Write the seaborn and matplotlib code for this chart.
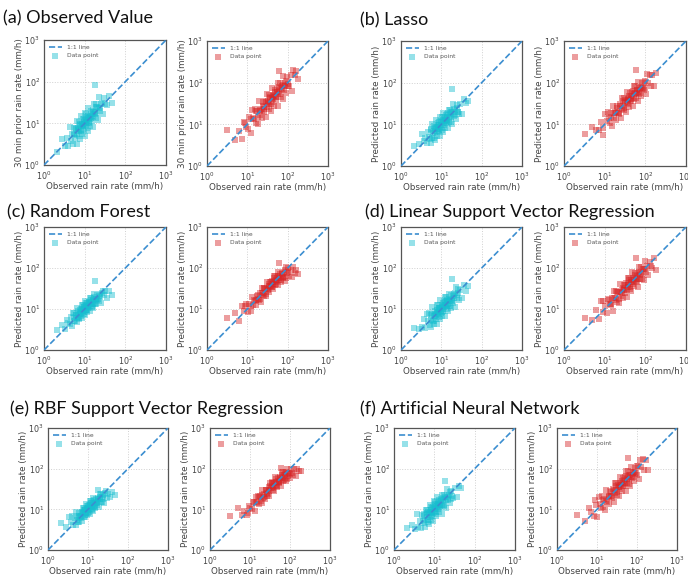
import numpy as np
import pandas as pd
import seaborn as sns
import matplotlib.pyplot as plt

# observed rain rate (mm/h) - same test samples in every panel
cyan_obs = [2.1, 2.8, 3.3, 3.7, 4.0, 4.3, 4.6, 4.9, 5.1, 5.4, 5.6, 5.9, 6.1, 6.4, 6.6,
            6.9, 7.1, 7.3, 7.6, 7.8, 8.0, 8.3, 8.5, 8.8, 9.0, 9.3, 9.5, 9.8, 10.1, 10.4,
            10.7, 11.0, 11.3, 11.7, 12.0, 12.4, 12.8, 13.2, 13.6, 14.1, 14.6, 15.1, 15.7, 16.3, 17.0,
            17.8, 18.6, 19.5, 20.5, 21.6, 22.8, 24.2, 25.8, 27.6, 29.7, 32.5, 36.0, 40.5, 46.0, 18.0,
            5.5, 6.0, 6.5, 7.0, 7.4, 7.8, 8.2, 8.6, 9.0, 9.4, 9.8, 10.2, 10.6, 11.0, 11.5,
            12.0, 12.5, 13.0, 13.6, 14.2, 14.9, 15.6, 16.4, 17.3, 18.3, 19.4, 20.6, 22.0, 24.0, 26.5]
red_obs = [3.2, 5.0, 6.2, 7.2, 8.2, 9.2, 10.2, 11.2, 12.2, 13.2, 14.2, 15.2, 16.2, 17.2, 18.3,
           19.4, 20.5, 21.6, 22.8, 24.0, 25.2, 26.5, 27.8, 29.2, 30.6, 32.0, 33.5, 35.0, 36.6, 38.2,
           40.0, 41.8, 43.6, 45.5, 47.5, 49.6, 51.8, 54.0, 56.5, 59.0, 61.8, 64.7, 67.8, 71.0, 74.5,
           78.2, 82.3, 86.8, 91.8, 97.3, 103.0, 110.0, 118.0, 127.0, 138.0, 150.0, 165.0, 185.0, 9.0, 60.0,
           12.5, 14.5, 16.5, 18.5, 20.5, 22.5, 24.5, 26.5, 28.5, 30.5, 32.5, 34.5, 36.5, 38.5, 40.5,
           42.5, 44.5, 47.0, 49.5, 52.0, 55.0, 58.0, 61.5, 65.0, 69.0, 73.0, 78.0, 84.0, 91.0, 100.0]

# (a) 30 min prior rain rate
prior_cyan = [2.1, 4.3, 2.8, 4.4, 2.9, 8.0, 3.8, 5.4, 3.2, 7.6, 5.2, 4.4, 7.9, 3.2, 11.2,
              6.9, 11.0, 5.0, 9.1, 4.3, 14.8, 6.8, 9.4, 5.5, 12.6, 8.6, 7.1, 12.7, 5.1, 17.7,
              10.7, 17.1, 7.7, 14.0, 6.6, 22.9, 10.5, 14.5, 8.4, 19.7, 13.4, 11.3, 20.4, 8.2, 28.9,
              17.8, 28.8, 13.3, 24.6, 11.9, 42.2, 19.8, 28.4, 17.1, 41.6, 29.9, 27.0, 46.0, 30.0, 82.0,
              5.5, 7.2, 5.5, 7.7, 6.7, 9.8, 6.6, 9.0, 8.6, 10.8, 9.8, 12.2, 9.0, 12.1, 10.4,
              15.0, 10.0, 13.7, 12.9, 16.3, 14.9, 18.7, 13.9, 19.0, 16.5, 24.3, 16.5, 23.1, 22.8, 30.5]
prior_red = [7.5, 4.1, 6.8, 4.5, 11.5, 8.5, 7.7, 14.6, 6.1, 22.4, 14.2, 23.6, 11.0, 20.6, 10.1,
             35.9, 16.8, 23.8, 14.1, 33.6, 23.2, 19.9, 36.1, 14.6, 52.0, 32.0, 51.9, 23.8, 43.9, 21.0,
             74.0, 34.3, 48.0, 28.2, 66.5, 45.6, 38.9, 70.2, 28.3, 100.3, 61.8, 100.3, 46.1, 85.2, 41.0,
             144.7, 67.5, 95.5, 56.9, 136.2, 94.8, 82.5, 153.4, 63.5, 200.0, 150.0, 190.0, 125.8, 10.8, 190.0,
             13.8, 13.1, 20.6, 14.8, 21.5, 21.4, 28.2, 26.5, 34.2, 25.9, 35.8, 31.1, 45.6, 30.8, 42.5,
             40.4, 51.2, 47.0, 59.4, 44.2, 60.5, 52.2, 76.9, 52.0, 72.5, 69.4, 89.7, 84.0, 109.2, 85.0]

# (b) Lasso
lasso_cyan = [3.1, 3.3, 6.0, 3.9, 4.8, 3.6, 6.7, 5.0, 4.4, 7.4, 3.5, 10.4, 6.1, 9.3, 4.8,
              8.1, 4.3, 12.4, 6.4, 8.4, 5.3, 11.0, 7.9, 6.9, 11.3, 5.2, 15.2, 9.8, 14.6, 7.5,
              12.6, 6.6, 19.2, 9.8, 13.0, 8.2, 16.9, 12.3, 10.6, 17.6, 8.2, 22.2, 14.4, 21.8, 11.3,
              19.3, 10.3, 30.5, 15.8, 21.5, 13.8, 29.4, 19.7, 17.7, 30.4, 18.0, 40.0, 33.2, 36.0, 70.0,
              7.6, 4.8, 6.8, 6.7, 8.5, 7.8, 9.8, 7.3, 9.9, 8.5, 12.3, 8.2, 11.1, 10.5, 13.2,
              12.0, 15.0, 11.1, 15.0, 12.8, 18.6, 11.5, 15.9, 15.1, 19.3, 17.8, 22.8, 17.2, 24.3, 19.5]
lasso_red = [6.0, 8.6, 7.5, 7.3, 11.3, 5.7, 17.9, 12.3, 19.5, 10.5, 18.4, 9.1, 27.5, 14.4, 19.8,
             12.8, 27.1, 20.1, 17.8, 30.0, 14.1, 42.4, 27.8, 42.3, 22.0, 37.8, 20.1, 59.5, 30.7, 41.3,
             26.4, 55.2, 40.5, 35.5, 59.4, 27.8, 82.9, 54.0, 81.9, 42.5, 67.1, 35.7, 106.0, 54.9, 74.0,
             47.5, 99.9, 74.3, 65.9, 111.9, 53.1, 162.0, 100.3, 156.5, 84.5, 150.5, 84.2, 170.0, 8.3, 200.0,
             14.4, 15.2, 19.0, 18.5, 24.6, 19.1, 27.0, 23.9, 35.6, 24.4, 34.1, 32.8, 42.0, 38.5, 48.6,
             36.1, 49.0, 42.3, 61.9, 41.6, 57.8, 55.1, 65.1, 59.8, 76.2, 57.1, 79.0, 69.6, 104.6, 73.6]

# (c) Random Forest
rf_cyan = [3.0, 4.0, 3.2, 5.5, 4.6, 4.3, 6.3, 3.8, 8.1, 5.9, 8.1, 5.0, 7.3, 4.8, 10.3,
           6.3, 7.7, 5.7, 9.4, 7.5, 6.9, 9.8, 5.9, 12.5, 9.0, 12.3, 7.6, 11.1, 7.3, 15.5,
           9.5, 11.7, 8.6, 14.3, 11.4, 10.4, 14.8, 8.8, 18.6, 13.5, 18.3, 11.4, 16.5, 10.8, 23.1,
           14.2, 17.5, 12.9, 21.5, 17.3, 16.0, 23.0, 13.9, 27.0, 21.8, 28.0, 18.8, 27.5, 22.0, 48.0,
           5.1, 7.0, 6.1, 9.0, 6.1, 8.3, 7.9, 9.9, 9.0, 11.3, 8.3, 11.2, 9.5, 13.8, 9.2,
           12.6, 11.8, 14.6, 13.1, 16.3, 12.0, 16.0, 13.6, 19.6, 13.0, 17.7, 16.7, 21.2, 19.4, 24.6]
rf_red = [6.0, 8.0, 5.2, 11.8, 9.0, 12.9, 8.5, 12.9, 8.9, 19.7, 12.6, 16.1, 12.3, 21.0, 17.4,
          16.5, 24.2, 14.9, 32.4, 24.0, 33.3, 21.2, 31.4, 21.0, 45.6, 28.5, 35.5, 26.6, 44.7, 36.3,
          34.0, 49.3, 30.1, 63.9, 46.5, 63.4, 39.6, 57.6, 38.2, 82.0, 50.7, 62.5, 46.4, 76.9, 61.8,
          57.0, 81.4, 49.0, 103.7, 75.0, 101.6, 63.2, 91.5, 59.0, 105.0, 74.8, 89.0, 72.0, 11.7, 135.0,
          11.9, 16.7, 16.5, 22.2, 17.4, 24.8, 22.1, 33.1, 22.8, 32.0, 30.9, 39.7, 36.5, 46.2, 34.4,
          46.8, 40.1, 57.5, 38.4, 52.2, 49.2, 62.1, 56.5, 70.8, 52.3, 70.4, 60.1, 87.1, 58.0, 79.8]

# (d) Linear Support Vector Regression
lsvr_cyan = [3.4, 3.3, 3.6, 5.8, 3.5, 7.5, 5.1, 7.8, 4.0, 7.0, 3.7, 11.0, 5.1, 6.9, 4.4,
             9.1, 6.6, 5.7, 9.5, 4.4, 12.8, 8.3, 12.3, 6.3, 10.6, 5.6, 16.2, 8.2, 10.9, 6.9,
             14.1, 10.2, 8.8, 14.6, 6.7, 19.8, 12.8, 19.1, 9.8, 16.6, 8.8, 23.6, 12.1, 16.2, 10.3,
             21.6, 15.9, 14.0, 23.6, 11.1, 33.6, 22.3, 30.7, 16.3, 28.8, 19.0, 38.0, 27.9, 36.0, 55.0,
             5.4, 7.5, 5.2, 7.4, 7.0, 9.0, 8.2, 10.3, 7.7, 10.3, 8.8, 12.8, 8.5, 11.6, 10.9,
             13.8, 12.5, 15.6, 11.6, 15.6, 13.4, 18.0, 12.1, 16.7, 16.0, 20.5, 19.0, 24.2, 18.8, 23.9]
lsvr_red = [6.1, 5.5, 9.6, 5.6, 15.3, 8.5, 12.1, 8.1, 17.7, 13.5, 12.2, 19.0, 9.1, 27.5, 18.3,
            28.1, 14.8, 25.5, 13.7, 40.8, 21.2, 28.6, 18.3, 38.5, 28.5, 25.0, 41.9, 19.6, 58.6, 38.2,
            58.0, 30.1, 51.4, 27.3, 80.8, 41.7, 55.9, 35.6, 74.6, 54.9, 44.4, 74.4, 34.9, 104.5, 68.5,
            104.3, 54.5, 94.3, 50.7, 152.2, 79.6, 109.1, 66.2, 142.6, 109.1, 99.5, 175.0, 87.9, 15.8, 175.0,
            16.5, 13.6, 18.2, 16.7, 25.6, 18.0, 25.7, 25.2, 32.8, 30.5, 39.0, 29.3, 40.2, 34.7, 50.6,
            34.0, 46.7, 44.7, 56.9, 52.0, 66.0, 49.3, 62.3, 53.8, 79.4, 53.8, 75.4, 73.4, 96.3, 92.0]

# (e) RBF Support Vector Regression
rbf_cyan = [4.7, 3.6, 6.5, 4.9, 6.7, 4.2, 6.2, 4.1, 8.8, 5.4, 6.7, 4.9, 8.2, 6.6, 6.0,
            8.6, 5.2, 10.9, 7.9, 10.7, 6.6, 9.6, 6.3, 13.4, 8.2, 10.0, 7.3, 12.1, 9.6, 8.8,
            12.6, 7.6, 15.9, 11.5, 15.6, 9.7, 14.0, 9.1, 19.4, 11.9, 14.6, 10.7, 17.7, 14.2, 13.1,
            18.8, 11.3, 24.0, 17.5, 23.9, 15.0, 21.9, 14.5, 28.0, 19.1, 23.6, 20.0, 27.0, 23.1, 30.0,
            5.0, 6.9, 6.7, 8.4, 7.7, 9.7, 7.1, 9.7, 8.3, 11.9, 7.9, 10.7, 10.1, 12.7, 11.4,
            14.2, 10.4, 13.9, 11.7, 16.9, 11.2, 15.2, 14.3, 17.9, 16.2, 20.3, 14.9, 20.2, 17.5, 25.4]
rbf_red = [7.0, 11.0, 7.2, 9.3, 7.2, 12.4, 10.5, 10.0, 14.9, 9.2, 20.2, 15.2, 21.4, 13.8, 20.7,
           14.0, 30.5, 19.2, 24.2, 18.2, 30.7, 25.2, 23.6, 34.5, 21.1, 45.4, 33.5, 46.2, 29.3, 43.2,
           28.8, 62.3, 38.8, 48.2, 35.3, 58.6, 47.0, 43.4, 62.5, 38.0, 80.9, 59.5, 81.8, 51.2, 75.1,
           49.7, 98.0, 65.0, 79.5, 58.5, 96.4, 77.0, 70.6, 99.1, 65.0, 100.0, 86.0, 90.0, 8.0, 105.0,
           14.8, 14.7, 19.8, 15.7, 22.6, 20.3, 30.6, 21.2, 29.9, 29.0, 37.4, 34.5, 43.8, 32.7, 44.6,
           38.3, 55.6, 36.8, 50.4, 47.2, 59.6, 54.0, 68.0, 50.6, 68.5, 58.1, 84.8, 56.6, 77.7, 73.7]

# (f) Artificial Neural Network
ann_cyan = [3.4, 4.1, 3.3, 7.8, 3.7, 5.1, 3.4, 7.1, 5.2, 4.6, 7.8, 3.6, 9.8, 6.4, 9.6,
            5.0, 8.4, 4.4, 12.9, 6.6, 8.6, 5.5, 11.2, 8.2, 7.0, 11.6, 5.3, 15.7, 10.1, 15.1,
            7.7, 13.0, 6.8, 19.9, 10.1, 13.4, 8.4, 17.4, 12.6, 11.0, 18.3, 7.8, 23.0, 15.0, 22.6,
            11.8, 20.2, 10.7, 32.1, 16.7, 22.7, 14.7, 28.0, 21.0, 19.0, 33.4, 20.0, 38.0, 34.0, 50.0,
            6.7, 5.4, 8.1, 5.6, 7.8, 7.4, 9.4, 8.6, 10.8, 8.0, 10.8, 9.2, 13.3, 8.8, 12.1,
            11.4, 14.4, 13.0, 16.3, 12.1, 16.4, 13.0, 18.9, 12.7, 17.6, 16.9, 21.9, 20.2, 26.5, 18.4]
ann_red = [7.2, 5.2, 10.7, 8.7, 7.0, 12.6, 6.3, 19.7, 13.4, 21.0, 11.2, 17.9, 9.7, 29.2, 15.4,
           21.0, 13.5, 28.5, 21.2, 18.7, 31.5, 14.8, 44.5, 29.2, 44.4, 23.0, 39.5, 21.0, 62.2, 32.1,
           43.2, 27.6, 57.6, 42.3, 37.1, 62.0, 29.0, 86.4, 56.5, 85.6, 41.0, 70.2, 37.4, 111.0, 57.5,
           77.7, 50.0, 105.5, 78.6, 69.8, 118.5, 56.6, 160.5, 108.0, 170.0, 91.8, 165.0, 94.2, 16.8, 180.0,
           11.0, 16.8, 15.7, 21.3, 20.5, 27.0, 20.8, 29.2, 25.7, 38.1, 26.0, 36.2, 34.7, 44.3, 40.5,
           51.0, 37.8, 51.7, 44.6, 65.0, 44.0, 60.9, 53.8, 68.8, 63.5, 80.6, 61.0, 85.0, 75.3, 115.0]

titles = ["(a) Observed Value", "(b) Lasso", "(c) Random Forest",
          "(d) Linear Support Vector Regression", "(e) RBF Support Vector Regression",
          "(f) Artificial Neural Network"]
ylabels = ["30 min prior rain rate (mm/h)"] + ["Predicted rain rate (mm/h)"] * 5
preds = [(prior_cyan, prior_red), (lasso_cyan, lasso_red), (rf_cyan, rf_red),
         (lsvr_cyan, lsvr_red), (rbf_cyan, rbf_red), (ann_cyan, ann_red)]
line_x = [1, 1000]

sns.set_style("white")
plt.rcParams['font.family'] = ['DejaVu Sans']

W, H = 688, 577
fig = plt.figure(figsize=(W / 100, H / 100), dpi=100)

# axes boxes in pixels: (left, top, right, bottom)
boxes = [
    [(44, 40, 166, 165), (207, 41, 328, 166)],
    [(401, 41, 522, 166), (564, 41, 686, 166)],
    [(44, 227, 166, 350), (207, 227, 328, 350)],
    [(401, 227, 522, 350), (564, 227, 686, 350)],
    [(48, 428, 168, 550), (210, 428, 330, 550)],
    [(394, 428, 515, 550), (557, 428, 677, 550)],
]
title_pos = [(3, 18), (360, 20), (7, 212), (365, 212), (10, 409), (360, 409)]
colors = ["#17becf", "#d62728"]

for i in range(6):
    tx, ty = title_pos[i]
    fig.text(tx / W, 1 - ty / H, titles[i], fontsize=13, family=['Lato', 'DejaVu Sans'],
             va='center', ha='left', color='#111111')
    for j in range(2):
        l, t, r, b = boxes[i][j]
        ax = fig.add_axes([l / W, 1 - b / H, (r - l) / W, (b - t) / H])
        obs = cyan_obs if j == 0 else red_obs
        df = pd.DataFrame({"obs": obs, "pred": preds[i][j]})
        sns.scatterplot(data=df, x="obs", y="pred", ax=ax, color=colors[j], marker='s',
                        s=16, alpha=0.45, linewidth=0, label="Data point", zorder=2)
        sns.lineplot(x=line_x, y=line_x, ax=ax, color="#3b8ed0", linestyle='--',
                     linewidth=1.2, label="1:1 line", zorder=3)
        ax.set(xscale='log', yscale='log', xlim=(1, 1000), ylim=(1, 1000))
        ax.minorticks_off()
        ax.grid(True, which='major', color='#d0d0d0', linestyle=':', linewidth=0.7)
        ax.set_xlabel("Observed rain rate (mm/h)", fontsize=6.3, color='#444444', labelpad=0.5)
        ax.set_ylabel(ylabels[i], fontsize=6.3, color='#444444', labelpad=0.5)
        ax.tick_params(labelsize=5.8, colors='#444444', length=2, width=0.6, pad=1)
        for sp in ax.spines.values():
            sp.set_color('#555555')
            sp.set_linewidth(0.9)
        handles, labels = ax.get_legend_handles_labels()
        order = [labels.index("1:1 line"), labels.index("Data point")]
        leg = ax.legend([handles[k] for k in order], [labels[k] for k in order],
                        loc='upper left', fontsize=4.3, frameon=False, handlelength=2.2,
                        borderaxespad=0.4, labelspacing=0.5)
        for txt in leg.get_texts():
            txt.set_color('#555555')

fig.savefig("out.png", dpi=100)
